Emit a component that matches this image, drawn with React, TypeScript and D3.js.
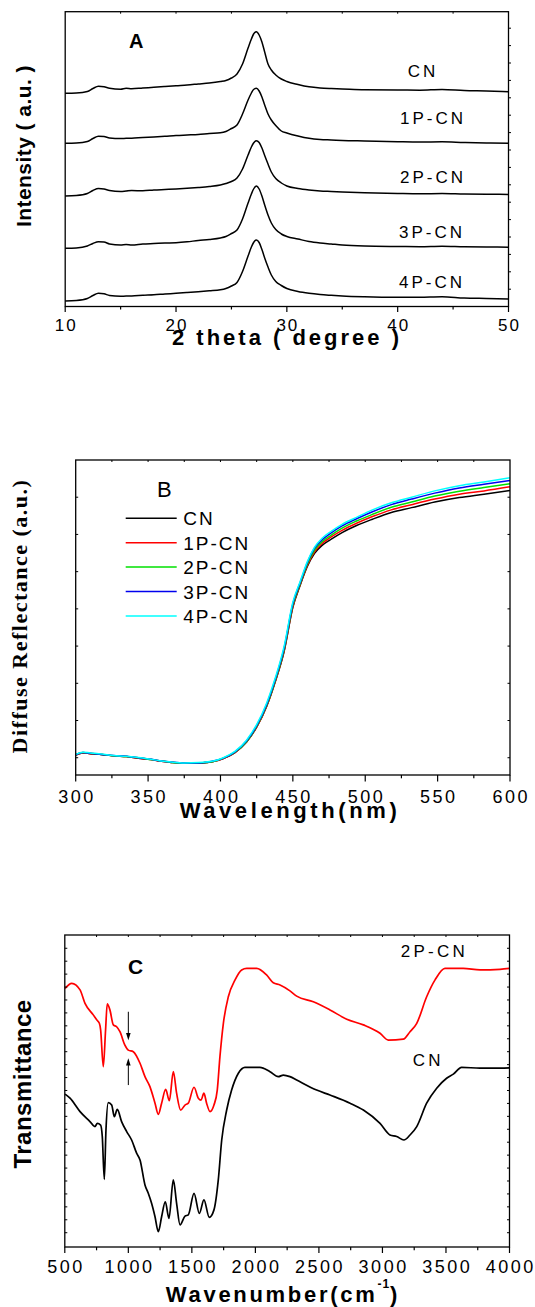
import React from 'react';
import * as d3 from 'd3';

// ---------- Panel A : XRD ----------
const xrdTheta = [10, 11, 12, 12.5, 13, 13.5, 14, 15, 15.5, 16, 17, 18, 19, 20, 21, 22, 23, 24, 24.5, 25, 25.5, 26, 26.5, 26.8, 27.0, 27.25, 27.5, 27.75, 28, 28.3, 28.6, 29, 29.5, 30, 31, 32, 33, 34, 35, 37, 40, 42, 44, 46, 48, 50];
const xrdCN = [216.7, 217, 218.5, 221.5, 223.7, 223.2, 221.7, 220.7, 221.7, 221.2, 222, 222.7, 223.5, 224.3, 225, 226, 227, 228.5, 229.5, 232, 236, 246, 262, 271, 276, 278.3, 275, 268, 258, 246, 240, 235, 231, 228.5, 225.5, 223.2, 222, 221.4, 221, 220.2, 220, 219.8, 220.5, 219.5, 219, 218.3];
const xrd1P = [166.7, 167, 168.5, 171.5, 173.7, 173.5, 172, 171.5, 171.7, 171.8, 172.5, 173, 173.7, 174.5, 175, 175.5, 176.5, 177.2, 178.5, 181.5, 185, 196, 210, 217, 220.5, 221.7, 219, 213, 205, 196, 190, 184.5, 179, 177, 174, 171.7, 170.5, 170, 169.5, 169, 168.3, 168, 168.2, 167.5, 167, 166.7];
const xrd2P = [114, 114.5, 116.5, 119.5, 121.5, 121, 119.5, 118.5, 119, 119.5, 119.2, 120, 120.5, 121, 121.7, 122.5, 123.5, 125, 126.5, 128.5, 132, 141, 155, 163, 167, 169.3, 167.5, 162, 154.5, 146, 138, 131.5, 127, 124, 121.5, 120, 119, 118.5, 118, 117.2, 116.5, 116.2, 116.5, 116, 115.8, 115.5];
const xrd3P = [61.7, 62, 64, 66.5, 68.3, 68, 66, 65, 65.5, 65, 66, 66.5, 67, 67.3, 68.2, 69.5, 70.5, 72, 73.5, 76.5, 80, 91, 107, 116, 121, 124, 121, 114, 105, 95, 87, 80.5, 76, 73.5, 71, 68.5, 67, 66, 65, 64, 63.5, 63.3, 63.8, 63.2, 63, 62.8];
const xrd4P = [9, 9.5, 11.5, 14.5, 16.7, 16.2, 14.5, 13.7, 14, 14, 14.7, 15.2, 16, 16.7, 17.5, 18.3, 19.2, 20.2, 21.5, 24, 27.5, 38.5, 54, 63, 67.5, 70, 67.5, 60.5, 52, 43, 35, 28.5, 24.5, 21.5, 18.5, 16.7, 15.5, 14.7, 14, 13.2, 12.7, 12.8, 13.3, 12, 11.5, 11];
const xrdNames = ['CN', '1P-CN', '2P-CN', '3P-CN', '4P-CN'];
const xrdTicks = [10, 20, 30, 40, 50];

// ---------- Panel B : DRS ----------
const drsWavelength = [300, 305, 310, 318, 326, 335, 345, 352, 358, 365, 375, 385, 395, 402, 410, 418, 425, 432, 438, 444, 450, 455, 460, 465, 470, 476, 484, 494, 505, 518, 532, 548, 565, 582, 600];
const drsCN = [.207, .213, .211, .209, .205, .203, .198, .195, .191, .188, .185, .186, .190, .198, .214, .242, .282, .339, .406, .486, .604, .663, .714, .749, .770, .786, .805, .824, .841, .859, .872, .887, .899, .908, .918];
const drs1P = [.207, .213, .211, .209, .205, .203, .198, .195, .191, .188, .185, .186, .190, .198, .214, .242, .282, .339, .407, .488, .606, .665, .717, .753, .775, .792, .811, .830, .848, .866, .880, .895, .908, .917, .928];
const drs2P = [.208, .214, .212, .209, .205, .203, .199, .195, .192, .188, .185, .186, .190, .199, .215, .243, .284, .341, .409, .491, .610, .667, .720, .758, .780, .797, .817, .836, .854, .873, .887, .903, .916, .926, .936];
const drs3P = [.208, .214, .212, .209, .206, .204, .199, .196, .192, .189, .186, .186, .191, .199, .216, .245, .286, .344, .412, .495, .614, .670, .724, .763, .785, .803, .823, .842, .861, .880, .895, .911, .925, .935, .945];
const drs4P = [.209, .215, .213, .210, .206, .204, .200, .196, .192, .189, .186, .187, .191, .200, .217, .247, .289, .348, .416, .500, .618, .673, .727, .766, .789, .807, .827, .846, .866, .885, .900, .917, .931, .941, .952];
const drsNames = ['CN', '1P-CN', '2P-CN', '3P-CN', '4P-CN'];
const drsColors = ['#000000', '#ff0000', '#00e000', '#0000ee', '#00ffff'];
const drsTicks = [300, 350, 400, 450, 500, 550, 600];
const drsYTicks = [0.2, 0.3, 0.4, 0.5, 0.6, 0.7, 0.8, 0.9];

// ---------- Panel C : FTIR ----------
const ftirWave2P = [502, 555, 620, 659, 724, 751, 772, 782, 803, 821, 834, 855, 882, 908, 934, 973, 1000, 1039, 1092, 1131, 1170, 1210, 1236, 1262, 1294, 1323, 1354, 1380, 1412, 1446, 1472, 1517, 1551, 1572, 1595, 1616, 1643, 1674, 1700, 1721, 1748, 1787, 1840, 1892, 1932, 2010, 2088, 2141, 2194, 2272, 2325, 2456, 2587, 2719, 2850, 2981, 3046, 3164, 3217, 3270, 3348, 3414, 3492, 3636, 3768, 3925, 4000];
const ftir2P = [82.9, 84.5, 82.4, 78.1, 74.4, 72.8, 71.7, 69.6, 57.8, 69.6, 77.9, 76.0, 71.2, 70.6, 69.0, 64.7, 63.1, 62.6, 58.9, 54.6, 51.4, 46.1, 42.5, 46.1, 50.5, 46.9, 56.2, 49.3, 43.9, 45.5, 46.1, 51.2, 47.7, 47.1, 49.3, 46.1, 43.4, 45.5, 50.3, 61.0, 71.7, 80.2, 85.6, 88.8, 89.3, 89.3, 87.2, 84.7, 84.0, 82.1, 80.4, 78.6, 76.0, 73.0, 71.2, 68.5, 66.3, 66.6, 69.0, 71.7, 80.2, 85.6, 89.3, 89.3, 88.8, 89.0, 89.3];
const ftirWaveCN = [502, 541, 620, 698, 737, 756, 782, 795, 811, 824, 842, 869, 890, 913, 947, 987, 1026, 1066, 1092, 1131, 1157, 1183, 1210, 1236, 1262, 1291, 1320, 1354, 1380, 1407, 1446, 1472, 1517, 1559, 1595, 1637, 1674, 1708, 1735, 1774, 1813, 1866, 1918, 2036, 2115, 2180, 2220, 2272, 2325, 2482, 2587, 2745, 2850, 2981, 3059, 3112, 3169, 3217, 3270, 3348, 3427, 3505, 3558, 3623, 3768, 3925, 4000];
const ftirCN = [49.0, 47.7, 43.4, 40.2, 38.6, 39.6, 39.1, 35.4, 21.7, 37.5, 46.3, 45.5, 41.8, 44.1, 40.2, 37.0, 34.3, 30.0, 27.9, 19.9, 17.2, 14.0, 9.7, 4.9, 9.7, 14.5, 9.2, 21.5, 14.0, 7.1, 9.9, 10.3, 17.2, 10.8, 15.1, 9.5, 11.9, 21.5, 34.3, 43.9, 50.3, 55.7, 57.6, 57.6, 56.2, 54.6, 55.1, 54.6, 53.5, 50.3, 48.7, 46.1, 43.9, 39.6, 35.9, 35.4, 34.3, 35.9, 38.6, 46.1, 50.9, 54.1, 55.4, 57.6, 57.3, 57.3, 57.4];
const ftirTicks = [500, 1000, 1500, 2000, 2500, 3000, 3500, 4000];

const SANS = "'Liberation Sans', Arial, Helvetica, sans-serif";
const SERIF = "'Liberation Serif', 'Times New Roman', serif";

function Frame({ l, r, t, b }: { l: number; r: number; t: number; b: number }) {
  return <rect x={l} y={t} width={r - l} height={b - t} fill="none" stroke="#000" strokeWidth={1.3} />;
}

export default function App() {
  // Panel A
  const A = { l: 65.2, r: 508.5, t: 11.7, b: 306.5 };
  const xA = d3.scaleLinear().domain([10, 50]).range([A.l, A.r]);
  const yA = d3.scaleLinear().domain([3.5, 298.3]).range([A.b, A.t]);
  const lineA = (vals: number[]) =>
    d3.line<number>().x((_, i) => xA(xrdTheta[i])).y(d => yA(d)).curve(d3.curveMonotoneX)(vals) || '';
  const xrdSeries = [xrdCN, xrd1P, xrd2P, xrd3P, xrd4P];
  const xrdLabelPos = [
    { x: 407.7, y: 76.7 },
    { x: 400, y: 124 },
    { x: 400, y: 183.3 },
    { x: 399, y: 238.3 },
    { x: 399, y: 288.3 },
  ];
  const aMinor = d3.range(15, 50, 10);
  const aRightTicks = d3.range(20.8, 298, 17.4);

  // Panel B
  const B = { l: 75.7, r: 510, t: 460, b: 775 };
  const xB = d3.scaleLinear().domain([300, 600]).range([B.l, B.r]);
  const yB = d3.scaleLinear().domain([0.1536, 1.0]).range([B.b, B.t]);
  const lineB = (vals: number[]) =>
    d3.line<number>().x((_, i) => xB(drsWavelength[i])).y(d => yB(d)).curve(d3.curveMonotoneX)(vals) || '';
  const drsSeries = [drsCN, drs1P, drs2P, drs3P, drs4P];
  const bMinor = d3.range(325, 600, 50);
  const bTop = d3.range(325, 600, 25);

  // Panel C
  const C = { l: 64.8, r: 509.5, t: 935, b: 1247 };
  const xC = d3.scaleLinear().domain([500, 4000]).range([C.l, C.r]);
  const yC = d3.scaleLinear().domain([0, 100]).range([C.b, C.t]);
  const lineC = (xs: number[], vals: number[]) =>
    d3.line<number>().x((_, i) => xC(xs[i])).y(d => yC(d)).curve(d3.curveMonotoneX)(vals) || '';
  const cMinor = d3.range(750, 4000, 500);
  const cTop = d3.range(750, 4000, 250);
  const cSide = d3.range(0, 23).map(i => 4.58 + i * 4.144);

  const arrowX = xC(1000);

  return (
    <div style={{ position: 'absolute', left: 0, top: 0 }}>
      <svg width={535} height={1307} viewBox="0 0 535 1307" style={{ display: 'block', background: '#fff' }}>
        <rect x={0} y={0} width={535} height={1307} fill="#fff" />

        {/* ===== Panel A ===== */}
        <g>
          {xrdSeries.map((s, i) => (
            <path key={i} d={lineA(s)} fill="none" stroke="#000" strokeWidth={1.5} strokeLinejoin="round" />
          ))}
          <Frame {...A} />
          {xrdTicks.map(t => (
            <line key={'am' + t} x1={xA(t)} x2={xA(t)} y1={A.b} y2={A.b + 5.5} stroke="#000" strokeWidth={1.2} />
          ))}
          {aMinor.map(t => (
            <line key={'an' + t} x1={xA(t)} x2={xA(t)} y1={A.b} y2={A.b + 3} stroke="#000" strokeWidth={1.2} />
          ))}
          {d3.range(15, 50, 5).map(t => (
            <line key={'at' + t} x1={xA(t)} x2={xA(t)} y1={A.t} y2={A.t + 2} stroke="#000" strokeWidth={1} />
          ))}
          {aRightTicks.map((v, i) => (
            <line key={'ar' + i} x1={A.r} x2={A.r + 2.5} y1={yA(v)} y2={yA(v)} stroke="#000" strokeWidth={1} />
          ))}
          {xrdTicks.map(t => (
            <text key={'al' + t} x={xA(t) + 1} y={331} fontFamily={SANS} fontSize={17} letterSpacing={2} textAnchor="middle" fill="#000">
              {t}
            </text>
          ))}
          <text x={287} y={345} fontFamily={SANS} fontSize={22} fontWeight="bold" letterSpacing={3} textAnchor="middle" fill="#000">
            2 theta ( degree )
          </text>
          <text transform="translate(31,146) rotate(-90)" fontFamily={SANS} fontSize={21} fontWeight="bold" letterSpacing={0.45} textAnchor="middle" fill="#000">
            Intensity ( a.u. )
          </text>
          <text x={129} y={48.3} fontFamily={SANS} fontSize={20} fontWeight="bold" fill="#000">A</text>
          {xrdNames.map((n, i) => (
            <text key={n} x={xrdLabelPos[i].x} y={xrdLabelPos[i].y} fontFamily={SANS} fontSize={17} letterSpacing={3} fill="#000">
              {n}
            </text>
          ))}
        </g>

        {/* ===== Panel B ===== */}
        <g>
          {drsSeries.map((s, i) => (
            <path key={i} d={lineB(s)} fill="none" stroke={drsColors[i]} strokeWidth={1.5} strokeLinejoin="round" />
          ))}
          <Frame {...B} />
          {drsTicks.map(t => (
            <line key={'bm' + t} x1={xB(t)} x2={xB(t)} y1={B.b} y2={B.b + 6.5} stroke="#000" strokeWidth={1.2} />
          ))}
          {bMinor.map(t => (
            <line key={'bn' + t} x1={xB(t)} x2={xB(t)} y1={B.b} y2={B.b + 3.3} stroke="#000" strokeWidth={1.2} />
          ))}
          {bTop.map(t => (
            <line key={'bt' + t} x1={xB(t)} x2={xB(t)} y1={B.t} y2={B.t + 2} stroke="#000" strokeWidth={1} />
          ))}
          {drsYTicks.map(v => (
            <g key={'by' + v}>
              <line x1={B.l} x2={B.l + 2.5} y1={yB(v)} y2={yB(v)} stroke="#000" strokeWidth={1} />
              <line x1={B.r} x2={B.r - 2.5} y1={yB(v)} y2={yB(v)} stroke="#000" strokeWidth={1} />
            </g>
          ))}
          {drsTicks.map(t => (
            <text key={'bl' + t} x={xB(t) + 1.2} y={803} fontFamily={SANS} fontSize={18} letterSpacing={2.5} textAnchor="middle" fill="#000">
              {t}
            </text>
          ))}
          <text x={290} y={818} fontFamily={SANS} fontSize={22} fontWeight="bold" letterSpacing={3.6} textAnchor="middle" fill="#000">
            Wavelength(nm)
          </text>
          <text transform="translate(27,616) rotate(-90)" fontFamily={SERIF} fontSize={22} fontWeight="bold" letterSpacing={1.5} textAnchor="middle" fill="#000">
            Diffuse Reflectance (a.u.)
          </text>
          <text x={157} y={496.7} fontFamily={SANS} fontSize={22} fill="#000">B</text>
          {drsNames.map((n, i) => {
            const ly = 518.3 + i * 24.4;
            return (
              <g key={n}>
                <line x1={125.7} x2={176.7} y1={ly} y2={ly} stroke={drsColors[i]} strokeWidth={1.5} />
                <text x={183.3} y={ly + 7} fontFamily={SANS} fontSize={19} letterSpacing={2} fill="#000">
                  {n}
                </text>
              </g>
            );
          })}
        </g>

        {/* ===== Panel C ===== */}
        <g>
          <path d={lineC(ftirWaveCN, ftirCN)} fill="none" stroke="#000" strokeWidth={1.7} strokeLinejoin="round" />
          <path d={lineC(ftirWave2P, ftir2P)} fill="none" stroke="#ff0000" strokeWidth={1.7} strokeLinejoin="round" />
          <Frame {...C} />
          {ftirTicks.map(t => (
            <line key={'cm' + t} x1={xC(t)} x2={xC(t)} y1={C.b} y2={C.b + 6} stroke="#000" strokeWidth={1.2} />
          ))}
          {cMinor.map(t => (
            <line key={'cn' + t} x1={xC(t)} x2={xC(t)} y1={C.b} y2={C.b + 3.3} stroke="#000" strokeWidth={1.2} />
          ))}
          {cTop.map(t => (
            <line key={'ct' + t} x1={xC(t)} x2={xC(t)} y1={C.t} y2={C.t + 2} stroke="#000" strokeWidth={1} />
          ))}
          {cSide.map((v, i) => (
            <g key={'cs' + i}>
              <line x1={C.l} x2={C.l + 2.5} y1={yC(v)} y2={yC(v)} stroke="#000" strokeWidth={1} />
              <line x1={C.r} x2={C.r - 2.5} y1={yC(v)} y2={yC(v)} stroke="#000" strokeWidth={1} />
            </g>
          ))}
          {ftirTicks.map(t => (
            <text key={'cl' + t} x={xC(t) + 1.2} y={1273} fontFamily={SANS} fontSize={18} letterSpacing={2.5} textAnchor="middle" fill="#000">
              {t}
            </text>
          ))}
          <text x={283} y={1302} fontFamily={SANS} fontSize={22} fontWeight="bold" letterSpacing={2.7} textAnchor="middle" fill="#000">
            <tspan>Wavenumber(cm</tspan>
            <tspan fontSize={12} letterSpacing={1} dy={-14}>-1</tspan>
            <tspan dy={14}>)</tspan>
          </text>
          <text transform="translate(30.5,1084) rotate(-90)" fontFamily={SANS} fontSize={24} fontWeight="bold" letterSpacing={0.5} textAnchor="middle" fill="#000">
            Transmittance
          </text>
          <text x={128} y={974} fontFamily={SANS} fontSize={21} fontWeight="bold" fill="#000">C</text>
          <text x={400.7} y={957.3} fontFamily={SANS} fontSize={17} letterSpacing={3.3} fill="#000">2P-CN</text>
          <text x={412.7} y={1066} fontFamily={SANS} fontSize={17} letterSpacing={3.3} fill="#000">CN</text>
          {/* arrows */}
          <line x1={arrowX} x2={arrowX} y1={yC(75.4)} y2={yC(67.5)} stroke="#000" strokeWidth={1} />
          <path d={`M${arrowX - 2.3},${yC(68.6)} L${arrowX + 2.3},${yC(68.6)} L${arrowX},${yC(66.3)} Z`} fill="#000" />
          <line x1={arrowX} x2={arrowX} y1={yC(51.9)} y2={yC(59.3)} stroke="#000" strokeWidth={1} />
          <path d={`M${arrowX - 2.3},${yC(58.2)} L${arrowX + 2.3},${yC(58.2)} L${arrowX},${yC(60.5)} Z`} fill="#000" />
        </g>
      </svg>
    </div>
  );
}
